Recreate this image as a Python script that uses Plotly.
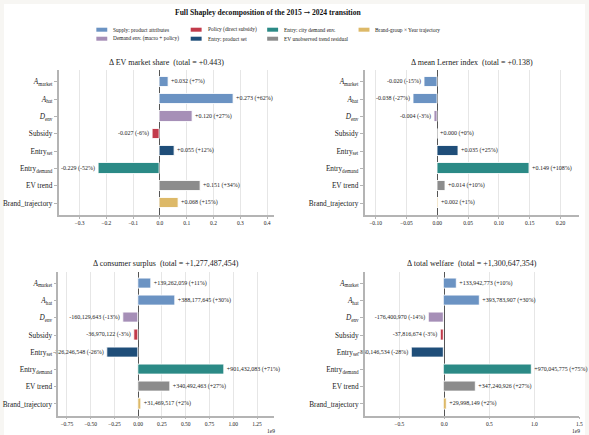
import plotly.graph_objects as go

W, H = 589, 435

# ---------------- data ----------------
categories = ["A_market", "A_hat", "D_env", "Subsidy", "Entry_set", "Entry_demand", "EV trend", "Brand_trajectory"]
tick_labels = ["<i>A</i><sub>market</sub>", "<i>A</i><sub>hat</sub>", "<i>D</i><sub>env</sub>", "Subsidy",
               "Entry<sub>set</sub>", "Entry<sub>demand</sub>", "EV trend", "Brand_trajectory"]
category_group = ["Supply", "Supply", "Demand", "Policy", "EntrySet", "EntryCity", "EVResid", "Brand"]

group_keys = ["Supply", "Demand", "Policy", "EntrySet", "EntryCity", "EVResid", "Brand"]
group_names = ["Supply: product attributes", "Demand env. (macro + policy)", "Policy (direct subsidy)",
               "Entry: product set", "Entry: city demand env.", "EV unobserved trend residual",
               "Brand-group × Year trajectory"]
group_colors = ["#6b93c3", "#a68fb7", "#c23b4b", "#1f4e79", "#2b8a86", "#8c8c8c", "#ddb968"]

ev_share = [0.032, 0.273, 0.120, -0.027, 0.055, -0.229, 0.151, 0.068]
ev_share_pct = [7, 62, 27, -6, 12, -52, 34, 15]
ev_share_total = 0.443

lerner = [-0.020, -0.038, -0.004, 0.000, 0.035, 0.149, 0.014, 0.002]
lerner_pct = [-15, -27, -3, 0, 25, 108, 10, 1]
lerner_total = 0.138

cons_surplus = [139262059, 388177645, -160129643, -36970122, -326246548, 901432083, 340492463, 31469517]
cons_surplus_pct = [11, 30, -13, -3, -26, 71, 27, 2]
cons_surplus_total = 1277487454

welfare = [133942773, 393783907, -176400970, -37816674, -360146534, 970045775, 347240926, 29998149]
welfare_pct = [10, 30, -14, -3, -28, 75, 27, 2]
welfare_total = 1300647354

ticks_share = [-0.3, -0.2, -0.1, 0.0, 0.1, 0.2, 0.3, 0.4]
ticks_share_txt = ["−0.3", "−0.2", "−0.1", "0.0", "0.1", "0.2", "0.3", "0.4"]
ticks_lerner = [-0.10, -0.05, 0.0, 0.05, 0.10, 0.15, 0.20]
ticks_lerner_txt = ["−0.10", "−0.05", "0.00", "0.05", "0.10", "0.15", "0.20"]
ticks_cs = [-0.75, -0.5, -0.25, 0.0, 0.25, 0.5, 0.75, 1.0, 1.25]
ticks_cs_txt = ["−0.75", "−0.50", "−0.25", "0.00", "0.25", "0.50", "0.75", "1.00", "1.25"]
ticks_tw = [-0.5, 0.0, 0.5, 1.0, 1.5]
ticks_tw_txt = ["−0.5", "0.0", "0.5", "1.0", "1.5"]

# ---------------- style / layout ----------------
FONT = "Liberation Serif, Times New Roman, serif"
TXT = "#222222"
color_of = dict(zip(group_keys, group_colors))
bar_colors = [color_of[g] for g in category_group]


def px(x):
    return x / W


def py(y):
    return 1 - y / H


panels = [
    dict(vals=ev_share, pct=ev_share_pct, total=ev_share_total, name="Δ EV market share", big=False,
         xd=[59, 276], yd=[70, 215], xr=[-0.378, 0.426], tv=ticks_share, tt=ticks_share_txt, scale=1),
    dict(vals=lerner, pct=lerner_pct, total=lerner_total, name="Δ mean Lerner index", big=False,
         xd=[367, 583], yd=[70, 215], xr=[-0.118, 0.230], tv=ticks_lerner, tt=ticks_lerner_txt, scale=1),
    dict(vals=cons_surplus, pct=cons_surplus_pct, total=cons_surplus_total, name="Δ consumer surplus", big=True,
         xd=[58.7, 276], yd=[271.6, 415.7], xr=[-0.84e9, 1.43e9], tv=ticks_cs, tt=ticks_cs_txt, scale=1e9),
    dict(vals=welfare, pct=welfare_pct, total=welfare_total, name="Δ total welfare", big=True,
         xd=[367.3, 583.3], yd=[271.6, 415.7], xr=[-0.883e9, 1.5e9], tv=ticks_tw, tt=ticks_tw_txt, scale=1e9),
]

fig = go.Figure()
layout = dict(
    width=W, height=H, margin=dict(l=0, r=0, t=0, b=0),
    paper_bgcolor="#f7f6f3", plot_bgcolor="white",
    font=dict(family=FONT, color=TXT),
    showlegend=False, bargap=0,
)
annotations = []
shapes = [dict(type="rect", xref="paper", yref="paper", x0=px(4), x1=1, y0=0, y1=py(4),
               fillcolor="white", line=dict(width=0), layer="below")]

for i, p in enumerate(panels, start=1):
    xa = "x" if i == 1 else f"x{i}"
    ya = "y" if i == 1 else f"y{i}"
    if p["big"]:
        texts = [f"{v:+,.0f} ({q:+d}%)" for v, q in zip(p["vals"], p["pct"])]
        title = f"{p['name']}\u00a0\u00a0(total = {p['total']:+,.0f})"
    else:
        texts = [f"{v:+.3f} ({q:+d}%)" for v, q in zip(p["vals"], p["pct"])]
        title = f"{p['name']}\u00a0\u00a0(total = {p['total']:+.3f})"
    fig.add_trace(go.Bar(
        x=p["vals"], y=list(range(len(categories))), orientation="h", width=0.6,
        marker=dict(color=bar_colors, line=dict(color="rgba(255,255,255,0.85)", width=1)),
        text=texts, textposition="outside", cliponaxis=False, constraintext="none",
        textfont=dict(size=6, color=TXT, family=FONT),
        xaxis=xa, yaxis=ya, hoverinfo="skip",
    ))
    xkey = "xaxis" if i == 1 else f"xaxis{i}"
    ykey = "yaxis" if i == 1 else f"yaxis{i}"
    layout[xkey] = dict(
        domain=[px(p["xd"][0]), px(p["xd"][1])], anchor=ya, range=p["xr"],
        tickvals=[t * p["scale"] for t in p["tv"]], ticktext=p["tt"],
        showgrid=True, gridcolor="#e6e6e6", gridwidth=0.8,
        zeroline=True, zerolinecolor="#555555", zerolinewidth=1,
        showline=True, linecolor="#b4b4b4", linewidth=1.5, mirror=False,
        ticks="outside", ticklen=2, tickcolor="#b4b4b4", tickwidth=0.8,
        tickfont=dict(size=5.5, color=TXT, family=FONT), fixedrange=True,
    )
    layout[ykey] = dict(
        domain=[py(p["yd"][1]), py(p["yd"][0])], anchor=xa, range=[7.68, -0.68],
        tickvals=list(range(len(categories))), ticktext=tick_labels,
        showgrid=False, zeroline=False,
        showline=True, linecolor="#b4b4b4", linewidth=1.5, mirror=False,
        ticks="outside", ticklen=3, tickcolor="#b4b4b4", tickwidth=0.8,
        tickfont=dict(size=7.3, color=TXT, family=FONT), fixedrange=True,
    )
    annotations.append(dict(
        text=title, xref="paper", yref="paper",
        x=px((p["xd"][0] + p["xd"][1]) / 2), y=py(p["yd"][0] - 8),
        xanchor="center", yanchor="middle", showarrow=False,
        font=dict(size=8, color=TXT, family=FONT),
    ))

# 1e9 offset labels
for (xx, yy) in [(273, 431), (580, 431)]:
    annotations.append(dict(text="1e9", xref="paper", yref="paper", x=px(xx), y=py(yy),
                            xanchor="center", yanchor="middle", showarrow=False,
                            font=dict(size=5.5, color=TXT, family=FONT)))

# main title
annotations.append(dict(text="<b>Full Shapley decomposition of the 2015 <span style='font-family:DejaVu Serif'>→</span> 2024 transition</b>",
                        xref="paper", yref="paper", x=px(270), y=py(13), xanchor="center", yanchor="middle",
                        showarrow=False, font=dict(size=7.6, color="#111111", family=FONT)))

# legend (4 columns, column-major fill)
col_x = [97, 192, 269, 361]
row_y = [29.7, 38.7]
for k, (name, col) in enumerate(zip(group_names, group_colors)):
    c, r = divmod(k, 2)
    x0, yc = col_x[c], row_y[r]
    shapes.append(dict(type="rect", xref="paper", yref="paper", x0=px(x0), x1=px(x0 + 11),
                       y0=py(yc + 2), y1=py(yc - 2), fillcolor=col, line=dict(width=0)))
    annotations.append(dict(text=name, xref="paper", yref="paper", x=px(x0 + 15), y=py(yc),
                            xanchor="left", yanchor="middle", showarrow=False,
                            font=dict(size=5.4, color=TXT, family=FONT)))

layout["annotations"] = annotations
layout["shapes"] = shapes
fig.update_layout(**layout)
fig.write_html("out.html")
